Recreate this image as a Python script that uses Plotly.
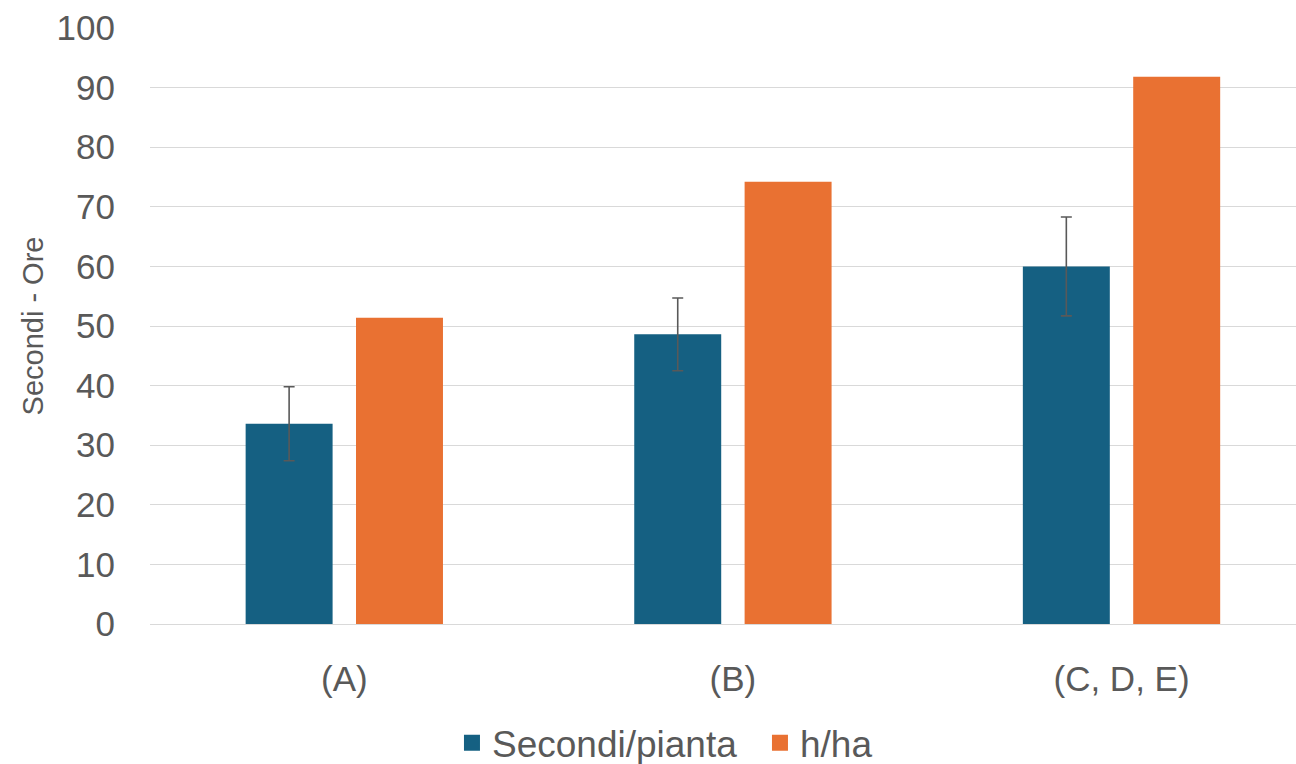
import plotly.graph_objects as go

categories = ["(A)", "(B)", "(C, D, E)"]
secondi_pianta = [33.6, 48.6, 60.0]
secondi_err = [6.2, 6.1, 8.3]
h_ha = [51.4, 74.2, 91.8]
series_names = ["Secondi/pianta", "h/ha"]
y_ticks = list(range(0, 101, 10))

BLUE = "#156082"
ORANGE = "#E97132"
TEXT = "#595959"
GRID = "#D9D9D9"
FONT = "Liberation Sans, Arial, sans-serif"

fig = go.Figure()
fig.add_trace(go.Bar(
    x=categories, y=secondi_pianta, name=series_names[0],
    marker=dict(color=BLUE, line=dict(width=0)),
    error_y=dict(type="data", array=secondi_err, visible=True,
                 color=TEXT, thickness=1.6, width=5.5),
    showlegend=False,
))
fig.add_trace(go.Bar(
    x=categories, y=h_ha, name=series_names[1],
    marker=dict(color=ORANGE, line=dict(width=0)),
    showlegend=False,
))
# legend entries (bigger square swatches)
for nm, col in zip(series_names, [BLUE, ORANGE]):
    fig.add_trace(go.Scatter(
        x=[None], y=[None], mode="markers", name=nm,
        marker=dict(symbol="square", size=19, color=col),
        showlegend=True,
    ))

fig.update_layout(
    width=1296, height=764,
    margin=dict(l=150, r=0, t=28, b=140, autoexpand=False),
    paper_bgcolor="white", plot_bgcolor="white",
    font=dict(family=FONT, color=TEXT, size=34),
    barmode="group", bargap=0.432, bargroupgap=0.212,
    legend=dict(orientation="h", x=0.2635, xanchor="left", y=-0.2,
                yanchor="middle", font=dict(size=37, color=TEXT),
                itemsizing="trace", bgcolor="rgba(0,0,0,0)",
                entrywidth=263, entrywidthmode="pixels"),
)
fig.update_xaxes(
    type="category", range=[-0.5, 2.449], automargin=False,
    showgrid=False, showline=False, zeroline=False,
    ticks="", tickfont=dict(size=35, color=TEXT),
    ticklabelstandoff=31,
)
fig.update_yaxes(
    range=[0, 100], tickvals=y_ticks, automargin=False,
    showgrid=True, gridcolor=GRID, gridwidth=1.3,
    zeroline=True, zerolinecolor=GRID, zerolinewidth=1.3,
    showline=False, ticks="",
    tickfont=dict(size=35, color=TEXT),
    ticklabelstandoff=34,
    title=dict(text="Secondi - Ore", font=dict(size=29, color=TEXT), standoff=4),
)

fig.write_html(
    "out.html",
    config={"displayModeBar": False},
    post_script="document.body.style.margin='0px';document.body.style.overflow='hidden';",
)
